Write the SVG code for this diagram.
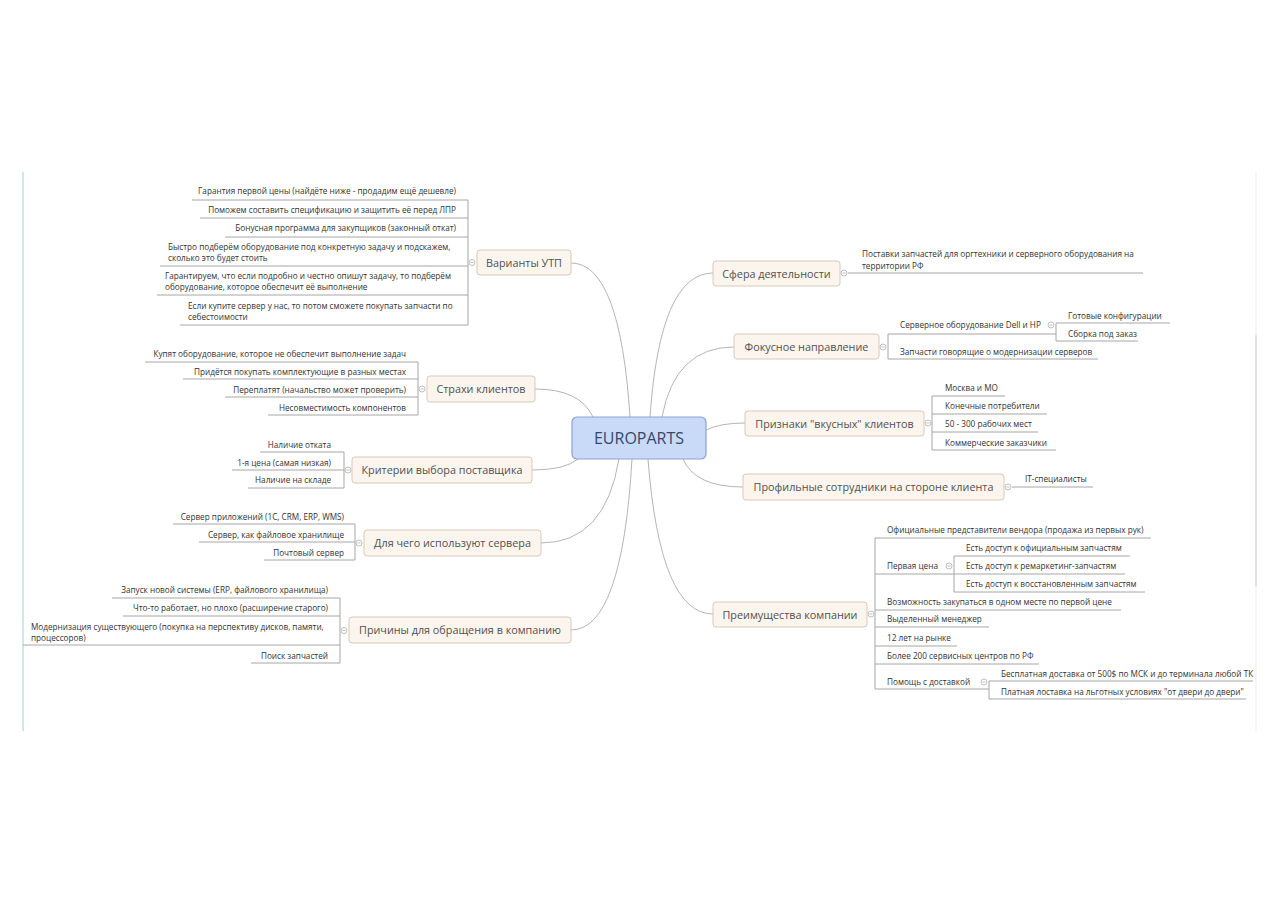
<svg xmlns="http://www.w3.org/2000/svg" width="1280" height="905" viewBox="0 0 1280 905">
<style>
.bg{fill:#ffffff}
.frameL{stroke:#a9ddd1;stroke-width:1.2}
.frameR{stroke:#eeeeee;stroke-width:1.2}
.frameR2{stroke:#d4d4d4;stroke-width:1.2}
.center rect{fill:#c8daf7;stroke:#8aa3d3;stroke-width:1.2}
.center text{font-family:"Open Sans","Liberation Sans",sans-serif;font-size:16px;fill:#37476a;text-anchor:middle}
.main rect{fill:#fcf5ee;stroke:#d8c9b9;stroke-width:1}
.main text{font-family:"Open Sans","Liberation Sans",sans-serif;font-size:10.8px;fill:#505050;text-anchor:middle}
.sub text{font-family:"Open Sans","Liberation Sans",sans-serif;font-size:8.2px;fill:#333333}
.l text{text-anchor:end}
.ml text{text-anchor:start}
.ul{stroke:#a6a6a6;stroke-width:1;fill:none}
.conn path{stroke:#b5b5b5;stroke-width:1;fill:none}
.br{stroke:#a6a6a6;stroke-width:1;fill:none}
</style>
<defs>
<g id="b"><circle r="3" fill="#ffffff" stroke="#b0b0b0" stroke-width="0.8"/><line x1="-1.6" y1="0" x2="1.6" y2="0" stroke="#b0b0b0" stroke-width="0.8"/></g>
</defs>
<rect class="bg" x="0" y="0" width="1280" height="905"/>
<line class="frameL" x1="23" y1="172" x2="23" y2="731"/>
<line class="frameR" x1="1256" y1="172" x2="1256" y2="731"/>
<line class="frameR2" x1="1256" y1="335" x2="1256" y2="586"/>

<g id="connectors" class="conn">
<path d="M630,417 Q620,263 571,263"/>
<path d="M593,417 Q580,389 535,389"/>
<path d="M578,459 Q565,470 532,470"/>
<path d="M619,459 Q605,543 541,543"/>
<path d="M632,459 Q622,630 571,630"/>
<path d="M650,417 Q660,273 713,273"/>
<path d="M662,417 Q675,347 734,347"/>
<path d="M706,430 Q720,423 745,423"/>
<path d="M683,459 Q695,487 743,487"/>
<path d="M648,459 Q660,614 713,614"/>
<g class="br">
<line x1="468" y1="200" x2="468" y2="325"/>
<line x1="418" y1="362" x2="418" y2="415"/>
<line x1="344" y1="452" x2="344" y2="488"/>
<line x1="355" y1="524" x2="355" y2="560"/>
<line x1="340" y1="598" x2="340" y2="663"/>
<line x1="888" y1="334" x2="888" y2="359"/>
<line x1="1056" y1="323" x2="1056" y2="341"/>
<line x1="932" y1="396" x2="932" y2="450"/>
<line x1="875" y1="538" x2="875" y2="689"/>
<line x1="954" y1="556" x2="954" y2="592"/>
<line x1="989" y1="681" x2="989" y2="699"/>
</g>
</g>

<g id="node-center" class="center">
<rect x="572" y="417" width="134" height="42" rx="5"/>
<text x="639" y="444">EUROPARTS</text>
</g>

<!-- Варианты УТП -->
<g id="node-utp" class="main">
<rect x="477" y="250" width="94" height="25" rx="3"/>
<text x="524" y="266.5">Варианты УТП</text>
</g>
<use href="#b" x="472" y="262.5"/>
<g id="node-utp-1" class="sub l"><line class="ul" x1="192" y1="200" x2="468" y2="200"/><text x="456" y="194">Гарантия первой цены (найдёте ниже - продадим ещё дешевле)</text></g>
<g id="node-utp-2" class="sub l"><line class="ul" x1="200" y1="218" x2="468" y2="218"/><text x="456" y="213">Поможем составить спецификацию и защитить её перед ЛПР</text></g>
<g id="node-utp-3" class="sub l"><line class="ul" x1="225" y1="237" x2="468" y2="237"/><text x="456" y="231">Бонусная программа для закупщиков (законный откат)</text></g>
<g id="node-utp-4" class="sub ml"><line class="ul" x1="160" y1="266" x2="468" y2="266"/><text x="168" y="250">Быстро подберём оборудование под конкретную задачу и подскажем,</text><text x="168" y="261">сколько это будет стоить</text></g>
<g id="node-utp-5" class="sub ml"><line class="ul" x1="157" y1="295" x2="468" y2="295"/><text x="165" y="279">Гарантируем, что если подробно и честно опишут задачу, то подберём</text><text x="165" y="290">оборудование, которое обеспечит её выполнение</text></g>
<g id="node-utp-6" class="sub ml"><line class="ul" x1="180" y1="325" x2="468" y2="325"/><text x="188" y="309">Если купите сервер у нас, то потом сможете покупать запчасти по</text><text x="188" y="320">себестоимости</text></g>

<!-- Страхи клиентов -->
<g id="node-fears" class="main">
<rect x="427" y="376" width="108" height="26" rx="3"/>
<text x="481" y="392.5">Страхи клиентов</text>
</g>
<use href="#b" x="422" y="389"/>
<g id="node-fears-1" class="sub l"><line class="ul" x1="145" y1="362" x2="418" y2="362"/><text x="406" y="357">Купят оборудование, которое не обеспечит выполнение задач</text></g>
<g id="node-fears-2" class="sub l"><line class="ul" x1="183" y1="379" x2="418" y2="379"/><text x="406" y="375">Придётся покупать комплектующие в разных местах</text></g>
<g id="node-fears-3" class="sub l"><line class="ul" x1="225" y1="397" x2="418" y2="397"/><text x="406" y="393">Переплатят (начальство может проверить)</text></g>
<g id="node-fears-4" class="sub l"><line class="ul" x1="268" y1="415" x2="418" y2="415"/><text x="406" y="411">Несовместимость компонентов</text></g>

<!-- Критерии -->
<g id="node-criteria" class="main">
<rect x="352" y="457" width="180" height="26" rx="3"/>
<text x="442" y="473.5">Критерии выбора поставщика</text>
</g>
<use href="#b" x="348" y="470"/>
<g id="node-criteria-1" class="sub l"><line class="ul" x1="260" y1="452" x2="344" y2="452"/><text x="331" y="448">Наличие отката</text></g>
<g id="node-criteria-2" class="sub l"><line class="ul" x1="232" y1="470" x2="344" y2="470"/><text x="331" y="466">1-я цена (самая низкая)</text></g>
<g id="node-criteria-3" class="sub l"><line class="ul" x1="248" y1="488" x2="344" y2="488"/><text x="331" y="483">Наличие на складе</text></g>

<!-- Для чего -->
<g id="node-servers" class="main">
<rect x="364" y="530" width="177" height="26" rx="3"/>
<text x="452.5" y="546.5">Для чего используют сервера</text>
</g>
<use href="#b" x="359" y="543"/>
<g id="node-servers-1" class="sub l"><line class="ul" x1="173" y1="524" x2="355" y2="524"/><text x="344" y="520">Сервер приложений (1С, CRM, ERP, WMS)</text></g>
<g id="node-servers-2" class="sub l"><line class="ul" x1="199" y1="542" x2="355" y2="542"/><text x="344" y="538">Сервер, как файловое хранилище</text></g>
<g id="node-servers-3" class="sub l"><line class="ul" x1="264" y1="560" x2="355" y2="560"/><text x="344" y="556">Почтовый сервер</text></g>

<!-- Причины -->
<g id="node-reasons" class="main">
<rect x="349" y="617" width="222" height="26" rx="3"/>
<text x="460" y="633.5">Причины для обращения в компанию</text>
</g>
<use href="#b" x="344" y="630.5"/>
<g id="node-reasons-1" class="sub l"><line class="ul" x1="112" y1="598" x2="340" y2="598"/><text x="328" y="593">Запуск новой системы (ERP, файлового хранилища)</text></g>
<g id="node-reasons-2" class="sub l"><line class="ul" x1="123" y1="616" x2="340" y2="616"/><text x="328" y="611">Что-то работает, но плохо (расширение старого)</text></g>
<g id="node-reasons-3" class="sub ml"><line class="ul" x1="23" y1="645" x2="340" y2="645"/><text x="31" y="630">Модернизация существующего (покупка на перспективу дисков, памяти,</text><text x="31" y="641">процессоров)</text></g>
<g id="node-reasons-4" class="sub l"><line class="ul" x1="251" y1="663" x2="340" y2="663"/><text x="328" y="659">Поиск запчастей</text></g>

<!-- Сфера деятельности -->
<g id="node-sphere" class="main">
<rect x="713" y="261" width="127" height="25" rx="3"/>
<text x="776.5" y="277.5">Сфера деятельности</text>
</g>
<use href="#b" x="844" y="273"/>
<g id="node-sphere-1" class="sub"><line class="ul" x1="848" y1="273" x2="1143" y2="273"/><text x="862" y="257">Поставки запчастей для оргтехники и серверного оборудования на</text><text x="862" y="269">территории РФ</text></g>

<!-- Фокусное направление -->
<g id="node-focus" class="main">
<rect x="734" y="334" width="145" height="25" rx="3"/>
<text x="806.5" y="350.5">Фокусное направление</text>
</g>
<use href="#b" x="883" y="347"/>
<g id="node-focus-1" class="sub"><line class="ul" x1="888" y1="334" x2="1056" y2="334"/><text x="900" y="328">Серверное оборудование Dell и HP</text></g>
<use href="#b" x="1051" y="325"/>
<g id="node-focus-1-1" class="sub"><line class="ul" x1="1056" y1="323" x2="1170" y2="323"/><text x="1068" y="319">Готовые конфигурации</text></g>
<g id="node-focus-1-2" class="sub"><line class="ul" x1="1056" y1="341" x2="1138" y2="341"/><text x="1068" y="337">Сборка под заказ</text></g>
<g id="node-focus-2" class="sub"><line class="ul" x1="888" y1="359" x2="1098" y2="359"/><text x="900" y="355">Запчасти говорящие о модернизации серверов</text></g>

<!-- Признаки -->
<g id="node-signs" class="main">
<rect x="745" y="411" width="179" height="25" rx="3"/>
<text x="834.5" y="427.5">Признаки "вкусных" клиентов</text>
</g>
<use href="#b" x="928" y="423"/>
<g id="node-signs-1" class="sub"><line class="ul" x1="932" y1="396" x2="1005" y2="396"/><text x="945" y="391">Москва и МО</text></g>
<g id="node-signs-2" class="sub"><line class="ul" x1="932" y1="414" x2="1047" y2="414"/><text x="945" y="409">Конечные потребители</text></g>
<g id="node-signs-3" class="sub"><line class="ul" x1="932" y1="432" x2="1038" y2="432"/><text x="945" y="427">50 - 300 рабочих мест</text></g>
<g id="node-signs-4" class="sub"><line class="ul" x1="932" y1="450" x2="1056" y2="450"/><text x="945" y="446">Коммерческие заказчики</text></g>

<!-- Профильные -->
<g id="node-staff" class="main">
<rect x="743" y="474" width="261" height="26" rx="3"/>
<text x="873.5" y="490.5">Профильные сотрудники на стороне клиента</text>
</g>
<use href="#b" x="1008" y="487"/>
<g id="node-staff-1" class="sub"><line class="ul" x1="1012" y1="487" x2="1093" y2="487"/><text x="1025" y="482">IT-специалисты</text></g>

<!-- Преимущества -->
<g id="node-adv" class="main">
<rect x="713" y="602" width="154" height="25" rx="3"/>
<text x="790" y="618.5">Преимущества компании</text>
</g>
<use href="#b" x="871" y="614"/>
<g id="node-adv-1" class="sub"><line class="ul" x1="875" y1="538" x2="1151" y2="538"/><text x="887" y="533">Официальные представители вендора (продажа из первых рук)</text></g>
<g id="node-adv-2" class="sub"><line class="ul" x1="875" y1="574" x2="954" y2="574"/><text x="887" y="569">Первая цена</text></g>
<use href="#b" x="949" y="566"/>
<g id="node-adv-2-1" class="sub"><line class="ul" x1="954" y1="556" x2="1130" y2="556"/><text x="966" y="551">Есть доступ к официальным запчастям</text></g>
<g id="node-adv-2-2" class="sub"><line class="ul" x1="954" y1="574" x2="1125" y2="574"/><text x="966" y="569">Есть доступ к ремаркетинг-запчастям</text></g>
<g id="node-adv-2-3" class="sub"><line class="ul" x1="954" y1="592" x2="1145" y2="592"/><text x="966" y="587">Есть доступ к восстановленным запчастям</text></g>
<g id="node-adv-3" class="sub"><line class="ul" x1="875" y1="610" x2="1121" y2="610"/><text x="887" y="605">Возможность закупаться в одном месте по первой цене</text></g>
<g id="node-adv-4" class="sub"><line class="ul" x1="875" y1="627" x2="989" y2="627"/><text x="887" y="622">Выделенный менеджер</text></g>
<g id="node-adv-5" class="sub"><line class="ul" x1="875" y1="646" x2="957" y2="646"/><text x="887" y="641">12 лет на рынке</text></g>
<g id="node-adv-6" class="sub"><line class="ul" x1="875" y1="664" x2="1039" y2="664"/><text x="887" y="659">Более 200 сервисных центров по РФ</text></g>
<g id="node-adv-7" class="sub"><line class="ul" x1="875" y1="689" x2="989" y2="689"/><text x="887" y="685">Помощь с доставкой</text></g>
<use href="#b" x="984" y="682"/>
<g id="node-adv-7-1" class="sub"><line class="ul" x1="989" y1="681" x2="1253" y2="681"/><text x="1001" y="677">Бесплатная доставка от 500$ по МСК и до терминала любой ТК</text></g>
<g id="node-adv-7-2" class="sub"><line class="ul" x1="989" y1="699" x2="1246" y2="699"/><text x="1001" y="695">Платная лоставка на льготных условиях "от двери до двери"</text></g>
</svg>
